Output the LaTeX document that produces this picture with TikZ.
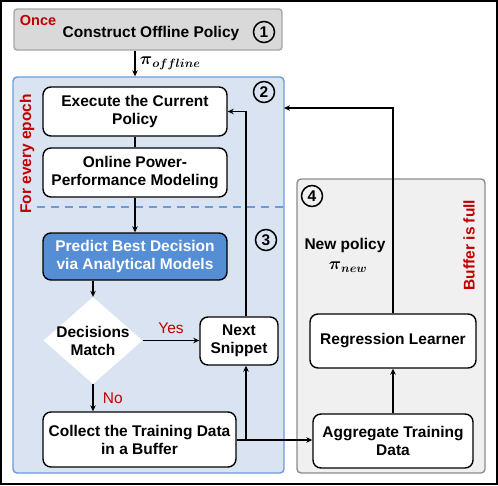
\documentclass[tikz,border=0pt]{standalone}
\usepackage{amsmath,amssymb}
\usepackage{fontspec}
\setmainfont{Liberation Sans}
\usepackage{xcolor}
\usetikzlibrary{arrows.meta,positioning,shapes.geometric,calc}
\definecolor{EpochF}{HTML}{DAE3F1}
\definecolor{EpochD}{HTML}{6A9BDB}
\definecolor{PredF}{HTML}{558ED5}
\definecolor{BufF}{HTML}{F0F0F0}
\definecolor{BufD}{HTML}{8C8C8C}
\definecolor{TopF}{HTML}{D9D9D9}
\definecolor{TopD}{HTML}{A6A6A6}
\definecolor{Red}{HTML}{C00000}

\begin{document}
\begin{tikzpicture}[x=1pt,y=-1pt,font=\fontsize{15.5}{18}\selectfont\bfseries,
    blk/.style={draw=black,fill=white,rounded corners=8pt,line width=1.4pt,
      align=center,inner sep=2pt},
    topbox/.style={draw=TopD,fill=TopF,rounded corners=3pt,line width=1.4pt,
      minimum width=268pt,minimum height=41pt},
    region/.style={rounded corners=4pt,line width=1.4pt},
    num/.style={draw=black,circle,line width=1.5pt,inner sep=0pt,minimum size=21pt},
    redlbl/.style={text=Red},
    decn/.style={diamond,fill=white,align=center,inner sep=-12pt,
      minimum width=99pt,minimum height=87pt},
    pilbl/.style={font=\fontsize{17.28}{20}\selectfont},
    conn/.style={->,line width=1.3pt},
    >={Stealth[length=6pt,width=5.5pt]}]
  \useasboundingbox (0,0) rectangle (498,485);
  \draw[line width=2pt] (1,1) rectangle (497,484);

  % regions
  \node[region,draw=EpochD,fill=EpochF,minimum width=271pt,minimum height=396pt] (epochbox) at (148.5,275) {};
  \node[region,draw=BufD,fill=BufF,minimum width=188pt,minimum height=294pt] (bufbox) at (391,326) {};
  \draw[EpochD,line width=2pt,dash pattern=on 8pt off 6pt] (37,207) -- (epochbox.east |- 0,207);

  % top
  \node[topbox] (offl) at (148,29.5) {};
  \node (offltxt) at (151,33) {Construct Offline Policy};
  \node[redlbl,font=\fontsize{14.5}{16}\selectfont\bfseries] (oncelbl) at (38,21) {Once};

  % boxes
  \node[blk,minimum width=184pt,minimum height=49pt] (exec) at (135,111.5) {Execute the Current\\Policy};
  \node[blk,minimum width=184pt,minimum height=49pt] (model) at (135,172.5) {Online Power-\\Performance Modeling};
  \node[blk,fill=PredF,text=white,minimum width=184pt,minimum height=47pt] (pred) at (135,256.5) {Predict Best Decision\\via Analytical Models};
  \node[decn] (dec) at (93,340.5) {Decisions\\Match};
  \node[blk,minimum width=78pt,minimum height=48pt] (snip) at (239,341) {Next\\Snippet};
  \node[blk,minimum width=193pt,minimum height=55pt] (coll) at (139.5,439.5) {Collect the Training Data\\in a Buffer};
  \node[blk,minimum width=166pt,minimum height=54pt] (regr) at (393,341) {Regression Learner};
  \node[blk,minimum width=160pt,minimum height=54pt] (aggr) at (393,441) {Aggregate Training\\Data};

  % numbers
  \node[num] (n1) at (264,32) {1};
  \node[num] (n2) at (264,92) {2};
  \node[num] (n3) at (266,240) {3};
  \node[num] (n4) at (312,196) {4};

  % side labels
  \node[redlbl,rotate=90] (epochlbl) at (27,154) {For every epoch};
  \node[redlbl,rotate=90] (fulllbl) at (469,245) {Buffer is full};
  \node (newpol) at (345,245) {New policy};
  \node[pilbl] (pinew) at (348,267) {$\boldsymbol{\pi}_{\boldsymbol{new}}$};

  % connectors
  \coordinate (jn) at (246,440);
  \coordinate (retin) at (284,108);
  \draw[conn] (offl.south -| exec) -- node[right=1pt,pilbl] {$\boldsymbol{\pi}_{\boldsymbol{offline}}$} (epochbox.north -| exec);
  \draw[line width=1.3pt] (exec) -- (model);
  \draw[conn] (model) -- (pred);
  \draw[conn] (pred.south -| dec) -- (dec.north);
  \draw[conn] (dec.east) -- node[above=3pt,redlbl,font=\fontsize{15.5}{18}\selectfont] {Yes} (snip.west |- dec.east);
  \draw[conn] (dec.south) -- node[right=6pt,redlbl,font=\fontsize{15.5}{18}\selectfont] {No} (dec.south |- coll.north);
  \draw[conn] (coll.east |- jn) -- (aggr.west |- jn);
  \draw[conn] (jn) -- (jn |- snip.south);
  \draw[conn] (jn |- snip.north) |- (exec.east);
  \draw[conn] (aggr) -- (regr);
  \draw[conn] (regr.north) |- (retin);
\end{tikzpicture}
\end{document}
